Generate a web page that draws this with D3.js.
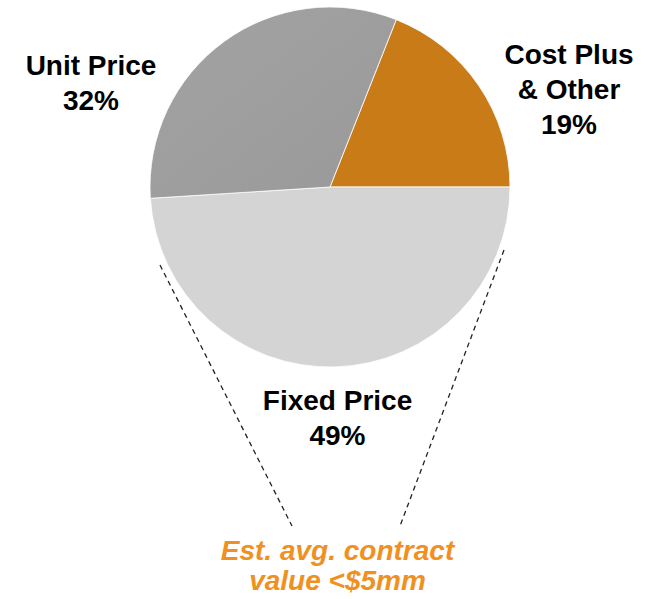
<!DOCTYPE html>
<html>
<head>
<meta charset="utf-8">
<script src="https://cdn.jsdelivr.net/npm/d3@7"></script>
<style>
  body { margin: 0; background: #fff; }
  text { font-family: "Liberation Sans", Arial, sans-serif; font-weight: bold; }
</style>
</head>
<body>
<script>
// Chart data
const categories = ["Cost Plus & Other", "Fixed Price", "Unit Price"];
const values = [19, 49, 32];
const sliceColors = ["#c97b18", "#d4d4d4", "#a0a0a0"];
const labelLines = [["Cost Plus", "& Other", "19%"], ["Fixed Price", "49%"], ["Unit Price", "32%"]];
const noteLines = ["Est. avg. contract", "value <$5mm"];

const width = 661;
const height = 599;
const cx = 330, cy = 187, radius = 180;

const svg = d3.select("body").append("svg")
    .attr("width", width)
    .attr("height", height);

// gradient on the dark slice, like the source
const defs = svg.append("defs");
const grad = defs.append("linearGradient")
    .attr("id", "unitGrad")
    .attr("x1", "0%").attr("y1", "0%")
    .attr("x2", "100%").attr("y2", "100%");
grad.append("stop").attr("offset", "0%").attr("stop-color", "#a4a3a3");
grad.append("stop").attr("offset", "100%").attr("stop-color", "#9a9999");

const data = categories.map((c, i) => ({ name: c, value: values[i], color: sliceColors[i], lines: labelLines[i] }));

// cost plus ends exactly at 3 o'clock
const total = d3.sum(values);
const start = Math.PI / 2 - (values[0] / total) * 2 * Math.PI;

const pie = d3.pie()
    .value(d => d.value)
    .sort(null)
    .startAngle(start)
    .endAngle(start + 2 * Math.PI);

const arc = d3.arc().innerRadius(0).outerRadius(radius);

const g = svg.append("g").attr("transform", `translate(${cx},${cy})`);

g.selectAll("path")
    .data(pie(data))
    .join("path")
    .attr("d", arc)
    .attr("fill", (d, i) => i === 2 ? "url(#unitGrad)" : d.data.color)
    .attr("stroke", "#ffffff")
    .attr("stroke-width", 0.8);

// labels
const labelPos = [[569, 63.5], [337.5, 410], [91, 75]];
const lineH = 35.2;

data.forEach((d, i) => {
    const t = svg.append("text")
        .attr("text-anchor", "middle")
        .attr("font-size", 28)
        .attr("fill", "#000");
    d.lines.forEach((ln, j) => {
        t.append("tspan")
            .attr("x", labelPos[i][0])
            .attr("y", labelPos[i][1] + j * lineH)
            .text(ln);
    });
});

// dashed callout lines
const dashLines = [[160, 265, 292, 526], [504, 250, 400, 526]];
svg.selectAll("line.callout")
    .data(dashLines)
    .join("line")
    .attr("class", "callout")
    .attr("x1", d => d[0]).attr("y1", d => d[1])
    .attr("x2", d => d[2]).attr("y2", d => d[3])
    .attr("stroke", "#222")
    .attr("stroke-width", 1.3)
    .attr("stroke-dasharray", "5,4");

// orange note
const note = svg.append("text")
    .attr("text-anchor", "middle")
    .attr("font-size", 28)
    .attr("font-style", "italic")
    .attr("fill", "#f0901e");
noteLines.forEach((ln, j) => {
    note.append("tspan")
        .attr("x", 337.5)
        .attr("y", 560 + j * 30)
        .text(ln);
});
</script>
</body>
</html>
